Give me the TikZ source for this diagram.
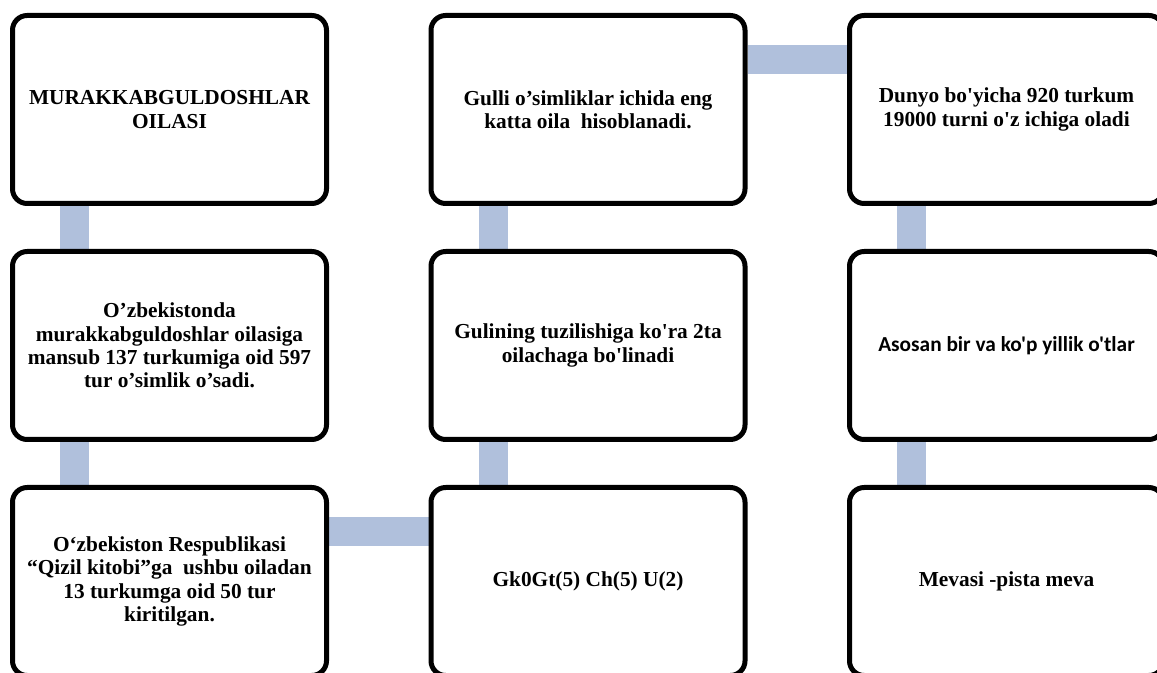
\documentclass[tikz,border=0pt]{standalone}
\usepackage{fontspec}
\setmainfont{Liberation Serif}[Ligatures=TeXOff]
\newfontfamily\calibrifont{Carlito}
\usepackage{xcolor}
\usetikzlibrary{positioning,backgrounds}
\definecolor{linkblue}{RGB}{176,192,220}

\begin{document}
\begin{tikzpicture}[x=0.75pt,y=-0.75pt,
    box/.style={draw=black, line width=3.75pt, rounded corners=11pt, fill=white,
      minimum width=235.5pt, minimum height=141pt, align=center, inner sep=2pt,
      font=\fontsize{16}{17.4}\selectfont\bfseries},
    link/.style={linkblue, line width=21.75pt}]
        \useasboundingbox (0,0) rectangle (1157,673); %枠
        \node[box] (b1) at (169.5,109.5) {MURAKKABGULDOSHLAR\\OILASI}; %左上
        \node[box] (b2) at (169.5,345.5) {O’zbekistonda\\murakkabguldoshlar oilasiga\\mansub 137 turkumiga oid 597\\tur o’simlik o’sadi.}; %左中
        \node[box] (b3) at (169.5,581.5) {O‘zbekiston Respublikasi\\“Qizil kitobi”ga\ \ ushbu oiladan\\13 turkumga oid 50 tur\\kiritilgan.}; %左下
        \node[box] (b4) at (588,109.5) {Gulli o’simliklar ichida eng\\katta oila\ \ hisoblanadi.}; %中上
        \node[box] (b5) at (588,345.5) {Gulining tuzilishiga ko'ra 2ta\\oilachaga bo'linadi}; %中央
        \node[box] (b6) at (588,581.5) {Gk0Gt(5) Ch(5) U(2)}; %中下
        \node[box] (b7) at (1006.5,109.5) {Dunyo bo'yicha 920 turkum\\19000 turni o'z ichiga oladi}; %右上
        \node[box, font=\fontsize{16}{17.4}\selectfont\calibrifont\bfseries] (b8) at (1006.5,345.5) {Asosan bir va ko'p yillik o'tlar}; %右中
        \node[box] (b9) at (1006.5,581.5) {Mevasi -pista meva}; %右下
        \begin{scope}[on background layer]
        \draw[link] ([xshift=48.4pt]b1.south west) -- ([xshift=48.4pt]b2.north west); %1-2
        \draw[link] ([xshift=48.4pt]b2.south west) -- ([xshift=48.4pt]b3.north west); %2-3
        \draw[link] ([yshift=-34.9pt]b3.north east) -- ([yshift=-34.9pt]b6.north west); %3-6
        \draw[link] ([xshift=48.4pt]b6.north west) -- ([xshift=48.4pt]b5.south west); %6-5
        \draw[link] ([xshift=48.4pt]b5.north west) -- ([xshift=48.4pt]b4.south west); %5-4
        \draw[link] ([yshift=-34.9pt]b4.north east) -- ([yshift=-34.9pt]b7.north west); %4-7
        \draw[link] ([xshift=48.4pt]b7.south west) -- ([xshift=48.4pt]b8.north west); %7-8
        \draw[link] ([xshift=48.4pt]b8.south west) -- ([xshift=48.4pt]b9.north west); %8-9
        \end{scope}
    \end{tikzpicture}
\end{document}
